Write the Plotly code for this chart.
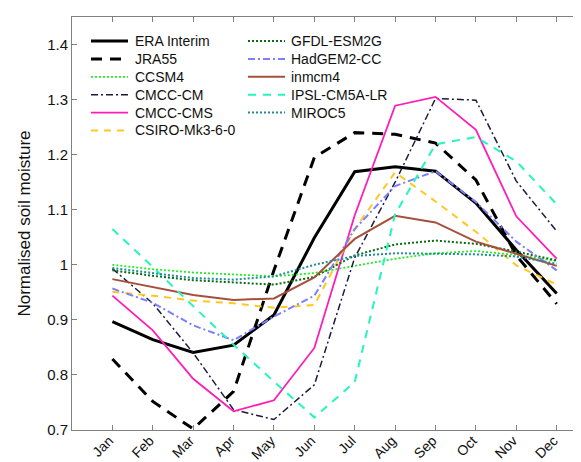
import plotly.graph_objects as go

months = ["Jan", "Feb", "Mar", "Apr", "May", "Jun", "Jul", "Aug", "Sep", "Oct", "Nov", "Dec"]
month_pos = [1, 2, 3, 4, 5, 6, 7, 8, 9, 10, 11, 12]

era_interim = [0.897, 0.864, 0.841, 0.854, 0.909, 1.049, 1.169, 1.178, 1.170, 1.112, 1.027, 0.948]
jra55 = [0.829, 0.752, 0.702, 0.770, 0.990, 1.195, 1.240, 1.237, 1.221, 1.154, 1.017, 0.929]
ccsm4 = [1.000, 0.992, 0.986, 0.982, 0.979, 0.985, 0.998, 1.011, 1.021, 1.025, 1.018, 1.007]
cmcc_cm = [0.993, 0.930, 0.840, 0.737, 0.719, 0.782, 1.013, 1.150, 1.302, 1.299, 1.152, 1.061]
cmcc_cms = [0.944, 0.881, 0.793, 0.734, 0.754, 0.849, 1.090, 1.289, 1.305, 1.245, 1.088, 1.011]
csiro = [0.951, 0.944, 0.935, 0.930, 0.922, 0.927, 1.065, 1.168, 1.115, 1.060, 0.999, 0.964]
gfdl = [0.990, 0.980, 0.972, 0.968, 0.964, 0.978, 1.017, 1.037, 1.044, 1.038, 1.024, 1.008]
hadgem = [0.957, 0.931, 0.890, 0.863, 0.906, 0.944, 1.065, 1.143, 1.170, 1.114, 1.042, 0.990]
inmcm4 = [0.974, 0.960, 0.945, 0.936, 0.939, 0.977, 1.047, 1.089, 1.077, 1.042, 1.020, 0.998]
ipsl = [1.065, 0.996, 0.925, 0.855, 0.788, 0.723, 0.787, 1.092, 1.219, 1.232, 1.188, 1.110]
miroc5 = [0.994, 0.985, 0.976, 0.973, 0.979, 1.000, 1.016, 1.021, 1.020, 1.019, 1.015, 1.002]

y_ticks = [0.7, 0.8, 0.9, 1.0, 1.1, 1.2, 1.3, 1.4]
y_ticktext = ["0.7", "0.8", "0.9", "1", "1.1", "1.2", "1.3", "1.4"]

series = [
    # name, values, color, width, dash, legend column
    ("ERA Interim", era_interim, "#000000", 3.0, "solid", 0),
    ("JRA55", jra55, "#000000", 3.0, "11px,8px", 0),
    ("CCSM4", ccsm4, "#22ee22", 1.8, "2px,2px", 0),
    ("CMCC-CM", cmcc_cm, "#1b1b3c", 1.5, "7px,3px,2px,3px", 0),
    ("CMCC-CMS", cmcc_cms, "#ff1db5", 1.8, "solid", 0),
    ("CSIRO-Mk3-6-0", csiro, "#ffc81e", 2.0, "7px,6px", 0),
    ("GFDL-ESM2G", gfdl, "#0b6b12", 2.0, "2px,2px", 1),
    ("HadGEM2-CC", hadgem, "#7d7dff", 2.0, "7px,3px,2px,3px", 1),
    ("inmcm4", inmcm4, "#a4503c", 2.0, "solid", 1),
    ("IPSL-CM5A-LR", ipsl, "#22f5bd", 2.0, "8px,7px", 1),
    ("MIROC5", miroc5, "#1f8c9c", 2.0, "2px,2px", 1),
]

W, H = 581, 462
ML, MR, MT, MB = 64, 0, 9, 40
PW, PH = W - ML - MR, H - MT - MB

font_family = "Liberation Sans, Arial, Helvetica, sans-serif"
axis_color = "#808080"

fig = go.Figure()
for name, vals, color, width, dash, col in series:
    fig.add_trace(go.Scatter(
        x=month_pos, y=vals, mode="lines", name=name,
        line=dict(color=color, width=width, dash=dash),
        showlegend=False,
    ))

# Two-column legend drawn as line samples + text labels (pixel layout -> paper coords)
def px_to_paper_x(px):
    return (px - ML) / PW

def px_to_paper_y(py):
    return (H - MB - py) / PH

col_line_x = [(83, 120), (240, 277)]
col_text_x = [125, 281]
row_y0, row_dy = 33, 17.9
row_count = [0, 0]
shapes, annotations = [], []
for name, vals, color, width, dash, col in series:
    r = row_count[col]
    row_count[col] += 1
    ypx = row_y0 + r * row_dy
    x0, x1 = col_line_x[col]
    shapes.append(dict(
        type="line", xref="paper", yref="paper",
        x0=px_to_paper_x(x0), x1=px_to_paper_x(x1),
        y0=px_to_paper_y(ypx), y1=px_to_paper_y(ypx),
        line=dict(color=color, width=width, dash=dash),
    ))
    annotations.append(dict(
        text=name, xref="paper", yref="paper",
        x=px_to_paper_x(col_text_x[col]), y=px_to_paper_y(ypx),
        xanchor="left", yanchor="middle", showarrow=False,
        font=dict(size=14, color="#111111"),
    ))

fig.update_layout(
    width=W, height=H,
    margin=dict(l=ML, r=MR, t=MT, b=MB, autoexpand=False),
    paper_bgcolor="white", plot_bgcolor="white",
    font=dict(family=font_family, color="#111111"),
    showlegend=False,
    shapes=shapes, annotations=annotations,
    xaxis=dict(
        range=[0, 12.8], tickmode="array", tickvals=month_pos, ticktext=months,
        tickangle=-45, ticks="inside", ticklen=5, tickcolor=axis_color,
        showline=True, linecolor=axis_color, linewidth=1, mirror="ticks",
        showgrid=False, zeroline=False, tickfont=dict(size=14),
        ticklabelstandoff=-4, ticklabelshift=-3,
        automargin=False,
    ),
    yaxis=dict(
        range=[0.7, 1.45], tickmode="array", tickvals=y_ticks, ticktext=y_ticktext,
        ticks="inside", ticklen=5, tickcolor=axis_color,
        showline=True, linecolor=axis_color, linewidth=1, mirror=False,
        showgrid=False, zeroline=False, tickfont=dict(size=15),
        title=dict(text="Normalised soil moisture", font=dict(size=17), standoff=12),
        automargin=False,
    ),
)

fig.write_html("out.html")
